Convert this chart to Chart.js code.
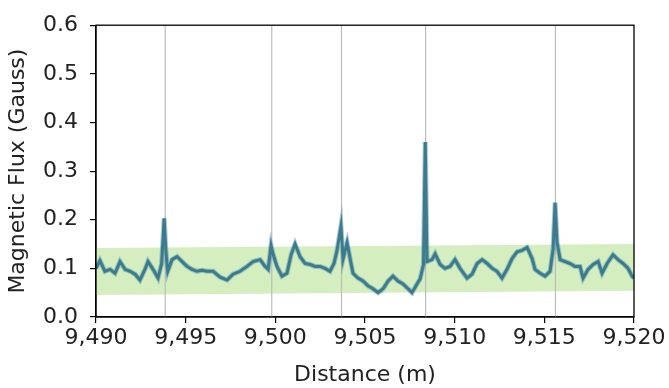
<!DOCTYPE html>
<html>
<head>
<meta charset="utf-8">
<script src="https://cdn.jsdelivr.net/npm/chart.js@4.4.1/dist/chart.umd.min.js"></script>
<style>
  html, body { margin: 0; padding: 0; background: #fff; }
  #wrap { position: relative; width: 669px; height: 388px; }
</style>
</head>
<body>
<div id="wrap"><canvas id="chart"></canvas></div>
<script>
// distance along the line (m) and measured flux (Gauss)
const distance = [9490.0, 9490.22, 9490.5, 9490.78, 9491.06, 9491.34, 9491.62, 9491.9, 9492.18, 9492.45,
  9492.73, 9492.9, 9493.18, 9493.46, 9493.66, 9493.8, 9493.9, 9494.0, 9494.24, 9494.52,
  9494.8, 9495.08, 9495.35, 9495.63, 9495.91, 9496.19, 9496.53, 9496.92, 9497.31, 9497.64,
  9498.03, 9498.42, 9498.76, 9499.15, 9499.43, 9499.6, 9499.76, 9499.87, 9500.09, 9500.37,
  9500.65, 9500.88, 9501.1, 9501.38, 9501.66, 9501.94, 9502.21, 9502.49, 9502.77, 9503.05,
  9503.27, 9503.44, 9503.66, 9503.78, 9504.0, 9504.17, 9504.33, 9504.61, 9504.89, 9505.17,
  9505.45, 9505.73, 9506.01, 9506.29, 9506.56, 9506.84, 9507.12, 9507.4, 9507.62, 9507.9,
  9508.07, 9508.26, 9508.36, 9508.46, 9508.74, 9508.91, 9509.19, 9509.46, 9509.74, 9510.02,
  9510.3, 9510.69, 9510.97, 9511.25, 9511.53, 9511.81, 9512.09, 9512.36, 9512.64, 9512.92,
  9513.2, 9513.48, 9513.76, 9514.04, 9514.32, 9514.48, 9514.76, 9515.04, 9515.32, 9515.49,
  9515.6, 9515.71, 9515.88, 9516.16, 9516.44, 9516.71, 9516.99, 9517.16, 9517.44, 9517.72,
  9518.0, 9518.22, 9518.5, 9518.83, 9519.11, 9519.39, 9519.67, 9519.89, 9520.0];
const flux = [0.100, 0.116, 0.094, 0.098, 0.090, 0.114, 0.098, 0.094, 0.088, 0.076,
  0.098, 0.114, 0.098, 0.080, 0.110, 0.203, 0.134, 0.094, 0.118, 0.124,
  0.114, 0.104, 0.098, 0.094, 0.096, 0.094, 0.094, 0.082, 0.076, 0.088,
  0.094, 0.104, 0.114, 0.118, 0.104, 0.098, 0.147, 0.130, 0.104, 0.084,
  0.090, 0.128, 0.150, 0.124, 0.110, 0.108, 0.104, 0.104, 0.100, 0.094,
  0.110, 0.137, 0.187, 0.120, 0.153, 0.120, 0.090, 0.080, 0.074, 0.064,
  0.058, 0.050, 0.058, 0.074, 0.084, 0.074, 0.068, 0.058, 0.050, 0.068,
  0.078, 0.108, 0.360, 0.114, 0.118, 0.130, 0.108, 0.100, 0.104, 0.118,
  0.100, 0.080, 0.088, 0.110, 0.118, 0.110, 0.100, 0.094, 0.080, 0.098,
  0.120, 0.134, 0.137, 0.143, 0.120, 0.098, 0.090, 0.084, 0.094, 0.140,
  0.235, 0.153, 0.118, 0.114, 0.110, 0.104, 0.104, 0.080, 0.098, 0.108,
  0.114, 0.090, 0.110, 0.128, 0.118, 0.110, 0.100, 0.084, 0.080];

// normal range band
const bandX = [9490, 9520];
const bandLow = [0.045, 0.054];
const bandHigh = [0.142, 0.150];

// marker positions (vertical lines)
const markers = [9493.86, 9499.8, 9503.69, 9508.38, 9515.62];

const xTicks = [9490, 9495, 9500, 9505, 9510, 9515, 9520];

const FONT = 'DejaVu Sans';
const pts = (xs, ys) => xs.map((x, i) => ({ x: x, y: ys[i] }));

const datasets = [
  {
    label: 'flux',
    data: pts(distance, flux),
    borderColor: '#3d7b8c',
    borderWidth: 3,
    pointRadius: 0,
    tension: 0,
    order: 0
  },
  {
    label: 'flux halo',
    data: pts(distance, flux),
    borderColor: 'rgba(80, 150, 175, 0.5)',
    borderWidth: 5,
    pointRadius: 0,
    tension: 0,
    order: 1
  }
];
markers.forEach(m => {
  datasets.push({
    label: 'marker',
    data: [{ x: m, y: 0 }, { x: m, y: 0.6 }],
    borderColor: '#bcbcbc',
    borderWidth: 1.2,
    pointRadius: 0,
    order: 2
  });
});
datasets.push({
  label: 'band high',
  data: pts(bandX, bandHigh),
  borderWidth: 0,
  borderColor: 'rgba(0,0,0,0)',
  backgroundColor: '#d5eec0',
  pointRadius: 0,
  fill: '+1',
  order: 3
});
datasets.push({
  label: 'band low',
  data: pts(bandX, bandLow),
  borderWidth: 0,
  borderColor: 'rgba(0,0,0,0)',
  pointRadius: 0,
  fill: false,
  order: 3
});

const frame = {
  id: 'frame',
  afterDraw(chart) {
    const { ctx, chartArea: a } = chart;
    ctx.save();
    ctx.strokeStyle = '#000';
    ctx.lineWidth = 1.3;
    ctx.strokeRect(a.left, a.top, a.right - a.left, a.bottom - a.top);
    ctx.restore();
  }
};

new Chart(document.getElementById('chart'), {
  type: 'line',
  data: { datasets: datasets },
  plugins: [frame],
  options: {
    responsive: true,
    maintainAspectRatio: false,
    animation: false,
    layout: { padding: { top: 15, right: 35, left: 0, bottom: 0 } },
    plugins: { legend: { display: false }, tooltip: { enabled: false } },
    scales: {
      x: {
        type: 'linear',
        min: 9490,
        max: 9520,
        afterBuildTicks: s => { s.ticks = xTicks.map(v => ({ value: v })); },
        afterFit: s => { s.height = 71; },
        grid: { display: true, drawOnChartArea: false, drawTicks: true, tickLength: 6, color: '#000', lineWidth: 1.2 },
        border: { display: true, color: '#000', width: 1.3 },
        ticks: {
          color: '#222',
          padding: 2,
          maxRotation: 0,
          font: { family: FONT, size: 22 },
          callback: v => v.toLocaleString('en-US')
        },
        title: {
          display: true,
          text: 'Distance (m)',
          color: '#222',
          padding: { top: 0, bottom: 0 },
          font: { family: FONT, size: 22 }
        }
      },
      y: {
        min: 0,
        max: 0.6,
        ticks: {
          stepSize: 0.1,
          color: '#222',
          padding: 12,
          font: { family: FONT, size: 22 },
          callback: v => v.toFixed(1)
        },
        afterFit: s => { s.width = 96; },
        grid: { display: true, drawOnChartArea: false, drawTicks: true, tickLength: 6, color: '#000', lineWidth: 1.2 },
        border: { display: true, color: '#000', width: 1.3 },
        title: {
          display: true,
          text: 'Magnetic Flux (Gauss)',
          color: '#222',
          padding: { top: 5, bottom: 0 },
          font: { family: FONT, size: 22 }
        }
      }
    }
  }
});
</script>
</body>
</html>
